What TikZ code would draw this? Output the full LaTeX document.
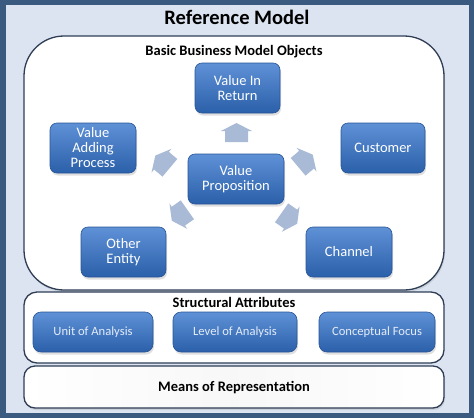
\documentclass[tikz,border=0pt]{standalone}
\usepackage{fontspec}
\setmainfont{Carlito}
\usetikzlibrary{shadows}
\definecolor{framedark}{HTML}{3A5A80}
\definecolor{framelight}{HTML}{DBE4F0}
\definecolor{boxtop}{HTML}{5E91D6}
\definecolor{boxbot}{HTML}{2B60AA}
\definecolor{boxline}{HTML}{2A5597}
\definecolor{arrowfill}{HTML}{A9BAD6}
\definecolor{panelline}{HTML}{2F3D55}
\definecolor{softtext}{HTML}{E4ECF8}
\tikzset{
  bluebox/.style={draw=boxline, line width=0.6pt, rounded corners=7pt,
    top color=boxtop, bottom color=boxbot, text=white, align=center,
    font=\fontsize{14.5}{15}\selectfont, minimum height=50pt, inner sep=2pt,
    drop shadow={opacity=0.25, shadow xshift=1pt, shadow yshift=-2.5pt}},
  attrbox/.style={bluebox, text=softtext, font=\fontsize{12.6}{14}\selectfont,
    minimum height=40pt, rounded corners=8pt},
  panel/.style={draw=panelline, line width=1.3pt, fill=white},
  paneltitle/.style={font=\bfseries\fontsize{14.5}{16}\selectfont, text=black},
  blockarrow/.style={fill=arrowfill, draw=none}
}
\begin{document}
\begin{tikzpicture}[x=1pt,y=-1pt]
\useasboundingbox (0,0) rectangle (474,418);
% frame
\fill[framedark] (0,0) rectangle (474,418);
\fill[framelight] (6,5) rectangle (469,413);
\node[font=\bfseries\fontsize{20.5}{22}\selectfont] (title) at (237,17) {Reference Model};

% panels
\node[panel, rounded corners=40pt, minimum width=420pt, minimum height=254pt,
  drop shadow={opacity=0.2, shadow xshift=1pt, shadow yshift=-2pt}] (bbmo) at (234,163) {};
\node[paneltitle] (bbmotitle) at (234,52) {Basic Business Model Objects};

\node[panel, rounded corners=13pt, minimum width=420pt, minimum height=71pt] (struct) at (234,327.5) {};
\node[paneltitle] (structtitle) at (234,302) {Structural Attributes};

\node[draw=panelline, line width=1.3pt, rounded corners=11pt, left color=white, right color=white,
  middle color=gray!6, minimum width=420pt, minimum height=42pt,
  drop shadow={opacity=0.2, shadow xshift=1pt, shadow yshift=-2pt}] (means) at (234,387) {};
\node[paneltitle] (meanstitle) at (234,388) {Means of Representation};

% model objects
\node[bluebox, minimum width=85pt] (vir) at (237.5,88) {Value In\\Return};
\node[bluebox, minimum width=86pt] (vap) at (93,148) {Value\\Adding\\Process};
\node[bluebox, minimum width=84pt] (cust) at (383,148) {Customer};
\node[bluebox, minimum width=96pt] (vp) at (236,179) {Value\\Proposition};
\node[bluebox, minimum width=85pt] (oe) at (123.5,252) {Other\\Entity};
\node[bluebox, minimum width=86pt] (chan) at (349,252) {Channel};

% block arrows
\foreach \px/\py/\ang in {236.5/133/90, 163/162/140, 305/161/40, 180/215/215, 289/218/325}{
  \fill[blockarrow, shift={(\px,\py)}, rotate=\ang]
    (-9,-11.5) -- (2,-11.5) -- (2,-15.5) -- (10,0) -- (2,15.5) -- (2,11.5) -- (-9,11.5) -- cycle;
}

% structural attributes
\node[attrbox, minimum width=120pt] (unit) at (93,332) {Unit of Analysis};
\node[attrbox, minimum width=124pt] (level) at (235,332) {Level of Analysis};
\node[attrbox, minimum width=116pt] (focus) at (377,332) {Conceptual Focus};
\end{tikzpicture}
\end{document}
